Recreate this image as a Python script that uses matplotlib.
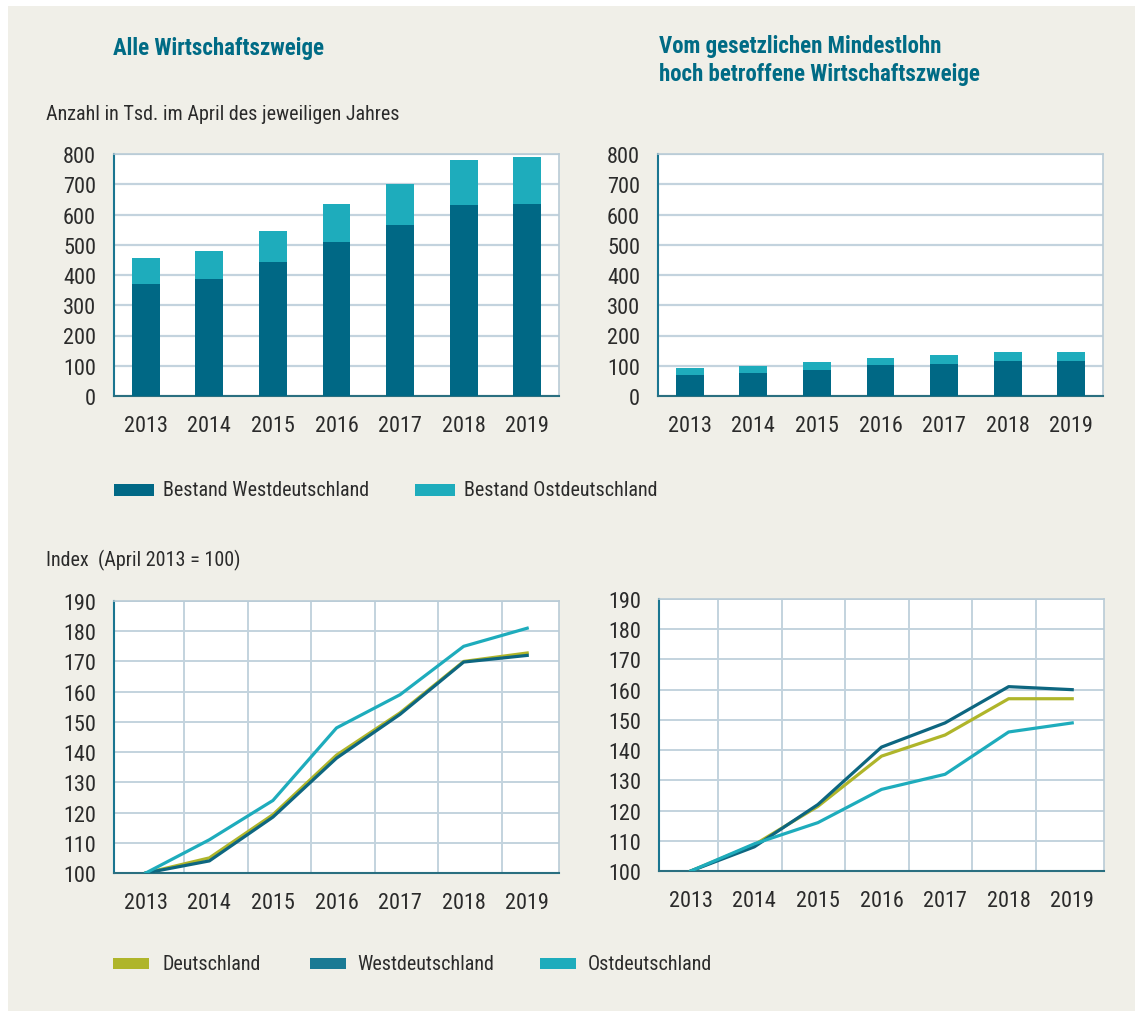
import matplotlib
matplotlib.use("Agg")
import matplotlib.pyplot as plt
import matplotlib.font_manager as fm
from matplotlib.patches import Rectangle
import numpy as np

# Daten
jahre = ["2013", "2014", "2015", "2016", "2017", "2018", "2019"]

# Bestand in Tsd. - alle Wirtschaftszweige
alle_west = [370, 387, 443, 509, 565, 631, 635]
alle_ost = [86, 92, 102, 126, 136, 149, 155]

# Bestand in Tsd. - hoch betroffene Wirtschaftszweige
hoch_west = [70, 77, 87, 103, 107, 117, 117]
hoch_ost = [23, 23, 26, 24, 30, 30, 30]

# Index (April 2013 = 100) - alle Wirtschaftszweige
idx_alle_de = [100, 105, 119.3, 139, 153, 170, 172.8]
idx_alle_west = [100, 104, 118.5, 138, 152.5, 169.8, 172]
idx_alle_ost = [100, 111, 124, 148, 159, 175, 181]

# Index - hoch betroffene Wirtschaftszweige
idx_hoch_de = [100, 108.7, 121.4, 138, 145, 157, 157]
idx_hoch_west = [100, 108, 122, 141, 149, 161, 160]
idx_hoch_ost = [100, 109, 116, 127, 132, 146, 149]

W, H = 1135, 1012
BG = "#f0efe8"
C_WEST = "#006885"
C_OST = "#1eacbc"
C_DE = "#afb52a"
C_WEST_L = "#0d6680"
C_TITLE = "#006b85"
C_GRID = "#c3d3de"
C_TXT = "#2b2b2b"

# schmale Schrift suchen, sonst Fallback
fonts = fm.fontManager.ttflist
names = set(f.name for f in fonts)
family = None
stretch = "normal"
for cand in ["Liberation Sans Narrow", "Roboto Condensed", "Open Sans Condensed",
             "Noto Sans Condensed", "DejaVu Sans Condensed"]:
    if cand in names:
        family = cand
        break
if family is None:
    for cand in ["Roboto", "Noto Sans", "Open Sans", "DejaVu Sans"]:
        if any(f.name == cand and f.stretch in ("condensed", "semi-condensed", 300, 400)
               for f in fonts if f.stretch != "normal"):
            family = cand
            stretch = "condensed"
            break
if family is None:
    family = "Liberation Sans"
plt.rcParams['font.family'] = [family, 'DejaVu Sans']
plt.rcParams['font.stretch'] = stretch
narrow = stretch == "condensed" or family != "Liberation Sans"
fs = 14.5 if narrow else 13.5      # Beschriftungen
tick_fs = 16 if narrow else 14     # Achsenzahlen
tfs = 16.5 if narrow else 14.5     # Titel

fig = plt.figure(figsize=(W / 100, H / 100), dpi=100, facecolor="white")
fig.patches.append(Rectangle((8 / W, 0), 1, 1 - 7 / H, transform=fig.transFigure,
                             facecolor=BG, edgecolor="none", zorder=-10))


def px_axes(l, t, r, b):
    return fig.add_axes([l / W, 1 - b / H, (r - l) / W, (b - t) / H])


def style(ax):
    ax.set_facecolor("white")
    for s in ["top", "right"]:
        ax.spines[s].set_color("#b9cbd6")
        ax.spines[s].set_linewidth(1.2)
    ax.spines["left"].set_color("#1a7590")
    ax.spines["left"].set_linewidth(1.5)
    ax.spines["bottom"].set_color("#2a6f80")
    ax.spines["bottom"].set_linewidth(1.5)
    ax.tick_params(length=0, labelsize=tick_fs, colors=C_TXT)
    ax.tick_params(axis="y", pad=13)
    ax.tick_params(axis="x", pad=14)
    ax.set_xlim(-0.5, 6.5)
    ax.set_xticks(range(len(jahre)))
    ax.set_xticklabels(jahre)


x = np.arange(len(jahre))


def bars(ax, west, ost):
    style(ax)
    ax.bar(x, west, width=0.44, color=C_WEST, zorder=3)
    ax.bar(x, ost, width=0.44, bottom=west, color=C_OST, zorder=3)
    ax.set_ylim(0, 800)
    ax.set_yticks(range(0, 801, 100))
    ax.yaxis.grid(True, color=C_GRID, linewidth=1.6, zorder=0)
    ax.set_axisbelow(True)


def lines(ax, de, west, ost, vgrid):
    style(ax)
    ax.plot(x, de, color=C_DE, linewidth=2.3, zorder=3)
    ax.plot(x, west, color=C_WEST_L, linewidth=2.3, zorder=4)
    ax.plot(x, ost, color=C_OST, linewidth=2.3, zorder=5)
    ax.set_ylim(100, 190)
    ax.set_yticks(range(100, 191, 10))
    ax.set_xticks([i + vgrid for i in range(6)], minor=True)
    ax.tick_params(which="minor", length=0)
    ax.yaxis.grid(True, color=C_GRID, linewidth=1.4, zorder=0)
    ax.xaxis.grid(True, which="minor", color=C_GRID, linewidth=1.4, zorder=0)
    ax.set_axisbelow(True)


ax1 = px_axes(114, 155, 559, 397)
bars(ax1, alle_west, alle_ost)
ax2 = px_axes(658, 155, 1103, 397)
bars(ax2, hoch_west, hoch_ost)

ax3 = px_axes(114, 602, 559, 874)
lines(ax3, idx_alle_de, idx_alle_west, idx_alle_ost, 0.6)
ax4 = px_axes(659, 600, 1104, 872)
lines(ax4, idx_hoch_de, idx_hoch_west, idx_hoch_ost, 0.43)


def ftext(xp, yp, s, **kw):
    fig.text(xp / W, 1 - yp / H, s, **kw)


# Titel
ftext(113, 49, "Alle Wirtschaftszweige", color=C_TITLE, fontsize=tfs,
      fontweight="bold", va="center")
ftext(659, 47, "Vom gesetzlichen Mindestlohn", color=C_TITLE, fontsize=tfs,
      fontweight="bold", va="center")
ftext(659, 75, "hoch betroffene Wirtschaftszweige", color=C_TITLE, fontsize=tfs,
      fontweight="bold", va="center")
ftext(46, 115, "Anzahl in Tsd. im April des jeweiligen Jahres", color=C_TXT,
      fontsize=fs, va="center")
ftext(46, 560, "Index  (April 2013 = 100)", color=C_TXT, fontsize=fs, va="center")


# Legenden
def legend_item(xs, yc, color, label, sw=40, sh=11, gap=9):
    fig.patches.append(Rectangle((xs / W, 1 - (yc + sh / 2) / H), sw / W, sh / H,
                                 transform=fig.transFigure, facecolor=color,
                                 edgecolor="none"))
    ftext(xs + sw + gap, yc, label, color=C_TXT, fontsize=fs, va="center")


legend_item(114, 491, C_WEST, "Bestand Westdeutschland")
legend_item(415, 491, C_OST, "Bestand Ostdeutschland")

legend_item(113, 964, C_DE, "Deutschland", sw=36, gap=14)
legend_item(310, 964, "#1a7a94", "Westdeutschland", sw=36, gap=11)
legend_item(540, 964, C_OST, "Ostdeutschland", sw=36, gap=12)

fig.savefig("out.png", dpi=100, facecolor="white")
